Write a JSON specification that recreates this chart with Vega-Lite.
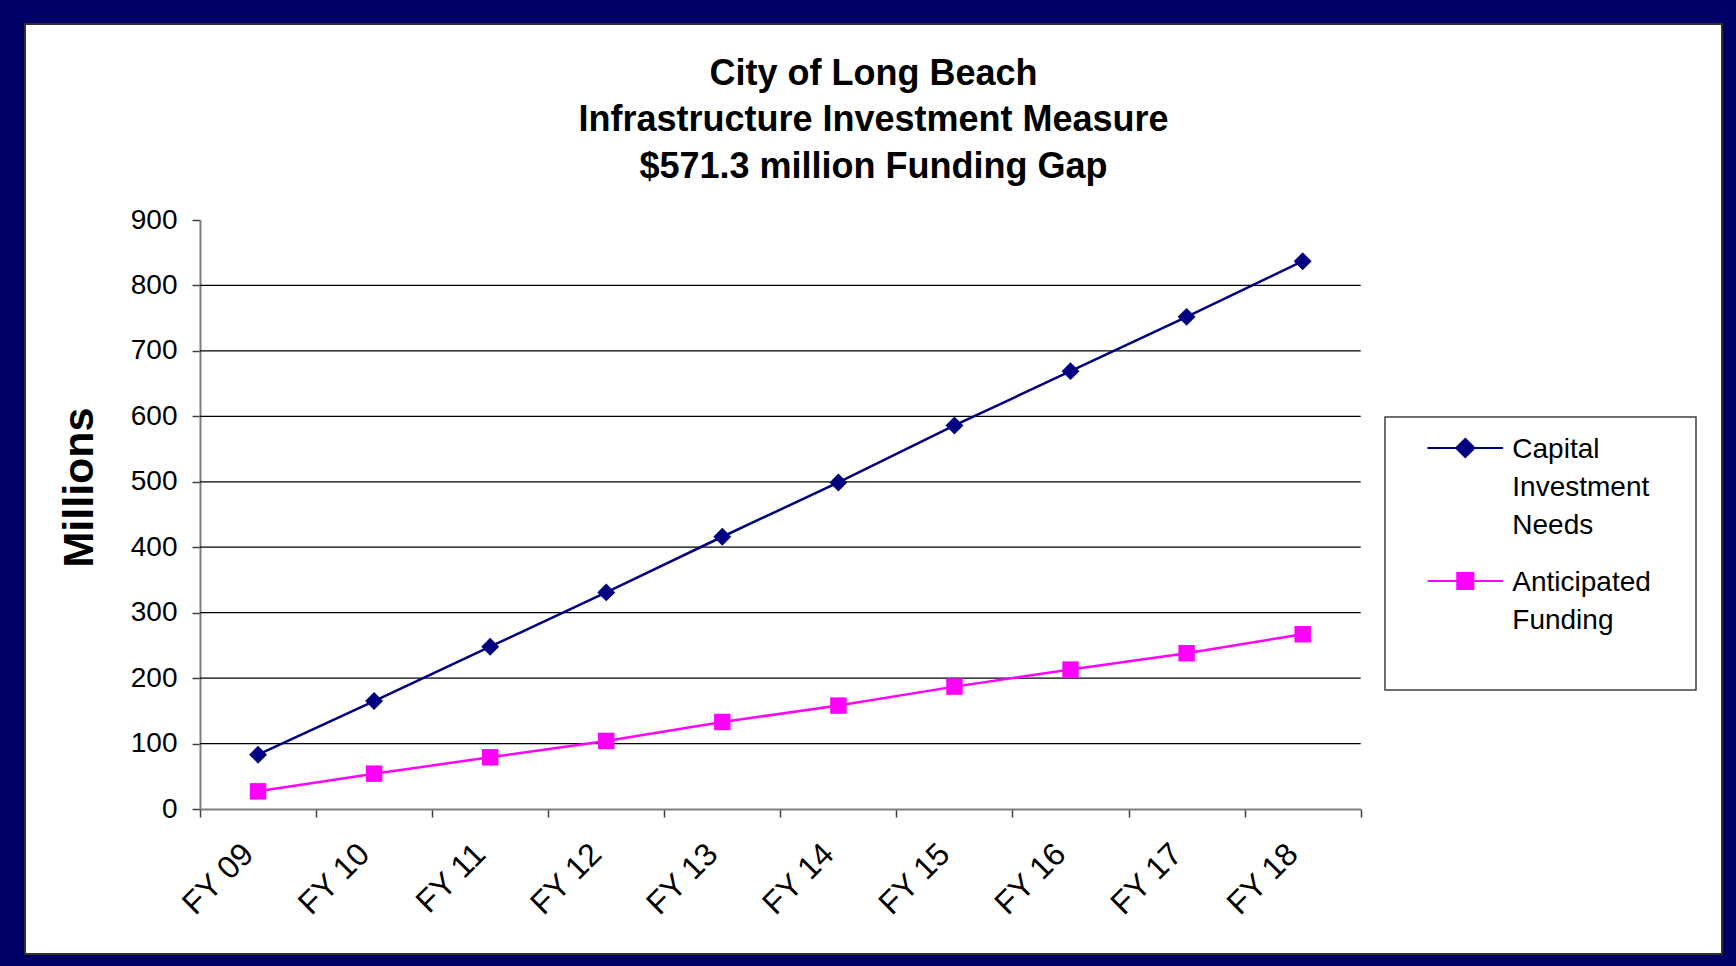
{
  "$schema": "https://vega.github.io/schema/vega-lite/v6.json",
  "autosize": {"type": "none"},
  "width": 1697,
  "height": 930,
  "padding": {"left": 25, "top": 24, "right": 14, "bottom": 12},
  "background": "#000066",
  "config": {
    "font": "Liberation Sans",
    "view": {"fill": "white", "stroke": "#303030", "strokeWidth": 2}
  },
  "title": {
    "text": ["City of Long Beach", "Infrastructure Investment Measure", "$571.3 million Funding Gap"],
    "font": "Liberation Sans",
    "fontSize": 36,
    "fontWeight": "bold",
    "color": "black",
    "lineHeight": 46.5,
    "baseline": "top",
    "anchor": "middle",
    "offset": -161.5
  },
  "datasets": {
    "series": [
      {"fy": "FY 09", "series": "Capital Investment Needs", "value": 83},
      {"fy": "FY 10", "series": "Capital Investment Needs", "value": 165},
      {"fy": "FY 11", "series": "Capital Investment Needs", "value": 248},
      {"fy": "FY 12", "series": "Capital Investment Needs", "value": 331},
      {"fy": "FY 13", "series": "Capital Investment Needs", "value": 416},
      {"fy": "FY 14", "series": "Capital Investment Needs", "value": 499},
      {"fy": "FY 15", "series": "Capital Investment Needs", "value": 586},
      {"fy": "FY 16", "series": "Capital Investment Needs", "value": 669},
      {"fy": "FY 17", "series": "Capital Investment Needs", "value": 752},
      {"fy": "FY 18", "series": "Capital Investment Needs", "value": 837},
      {"fy": "FY 09", "series": "Anticipated Funding", "value": 27},
      {"fy": "FY 10", "series": "Anticipated Funding", "value": 54},
      {"fy": "FY 11", "series": "Anticipated Funding", "value": 79},
      {"fy": "FY 12", "series": "Anticipated Funding", "value": 104},
      {"fy": "FY 13", "series": "Anticipated Funding", "value": 133},
      {"fy": "FY 14", "series": "Anticipated Funding", "value": 158},
      {"fy": "FY 15", "series": "Anticipated Funding", "value": 187},
      {"fy": "FY 16", "series": "Anticipated Funding", "value": 213},
      {"fy": "FY 17", "series": "Anticipated Funding", "value": 238},
      {"fy": "FY 18", "series": "Anticipated Funding", "value": 267}
    ],
    "grid": [{"v": 100}, {"v": 200}, {"v": 300}, {"v": 400}, {"v": 500}, {"v": 600}, {"v": 700}, {"v": 800}]
  },
  "layer": [
    {
      "data": {"name": "grid"},
      "mark": {"type": "rule", "color": "black", "strokeWidth": 1.2},
      "encoding": {
        "y": {
          "field": "v", "type": "quantitative",
          "scale": {"domain": [0, 900], "range": [785, 196], "nice": false, "zero": false},
          "axis": {
            "values": [0, 100, 200, 300, 400, 500, 600, 700, 800, 900],
            "offset": -175, "grid": false,
            "domain": true, "domainColor": "#7f7f7f", "domainWidth": 2,
            "tickSize": 8, "tickColor": "#404040", "tickWidth": 1.5,
            "labelFontSize": 28, "labelFont": "Liberation Sans", "labelColor": "black", "labelPadding": 15,
            "title": "Millions", "titleFont": "Liberation Sans", "titleFontSize": 43, "titleFontWeight": "bold", "titleColor": "black",
            "titleAngle": -90, "titleAlign": "center", "titleBaseline": "middle", "titleX": -121, "titleY": 463
          }
        },
        "x": {"datum": "FY 09", "type": "ordinal", "bandPosition": 0},
        "x2": {"datum": "FY 18", "bandPosition": 1}
      }
    },
    {
      "data": {"name": "series"},
      "mark": {"type": "line", "strokeWidth": 2.5},
      "encoding": {
        "x": {
          "field": "fy", "type": "ordinal",
          "scale": {"type": "band", "domain": ["FY 09", "FY 10", "FY 11", "FY 12", "FY 13", "FY 14", "FY 15", "FY 16", "FY 17", "FY 18"], "range": [175, 1335.7], "paddingInner": 0, "paddingOuter": 0, "round": false},
          "axis": {
            "orient": "bottom", "offset": -145, "grid": false, "title": null,
            "domain": true, "domainColor": "#7f7f7f", "domainWidth": 2,
            "tickBand": "extent", "tickSize": 8, "tickColor": "#404040", "tickWidth": 1.5,
            "labelAngle": -45, "labelAlign": "right", "labelBaseline": "top", "labelPadding": 21, "labelOffset": -21,
            "labelFontSize": 32, "labelFont": "Liberation Sans", "labelColor": "black"
          }
        },
        "y": {"field": "value", "type": "quantitative", "scale": {"domain": [0, 900], "range": [785, 196], "nice": false, "zero": false}},
        "color": {
          "field": "series", "type": "nominal",
          "scale": {"domain": ["Capital Investment Needs", "Anticipated Funding"], "range": ["#000080", "#FF00FF"]},
          "legend": {
            "orient": "none", "legendX": 1360, "legendY": 393, "title": null,
            "padding": 17, "strokeColor": "#404040", "fillColor": "white",
            "symbolSize": 400, "symbolStrokeWidth": 2, "symbolOffset": 49.3,
            "labelFontSize": 28, "labelFont": "Liberation Sans", "labelColor": "black",
            "labelOffset": 33, "labelBaseline": "alphabetic", "labelLimit": 500, "rowPadding": 27,
            "labelExpr": "split(datum.label, ' ')",
            "encode": {
              "legend": {"update": {"strokeWidth": {"value": 1.5}}},
              "labels": {"update": {"dy": {"value": 10}, "lineHeight": {"value": 38}}},
              "symbols": {"update": {
                "shape": {"signal": "datum.value === 'Capital Investment Needs' ? 'M-3.78,0L3.78,0M0,-0.935L0.935,0L0,0.935L-0.935,0ZM20.93,0L20.93,0' : 'M-3.78,0L3.78,0M-0.815,-0.815L0.815,-0.815L0.815,0.815L-0.815,0.815ZM20.93,8.82L20.93,8.82'"},
                "stroke": {"signal": "scale('color', datum.value)"},
                "strokeWidth": {"value": 1.8},
                "size": {"value": 400},
                "opacity": {"value": 1}
              }}
            }
          }
        }
      }
    },
    {
      "data": {"name": "series"},
      "transform": [{"filter": "datum.series === 'Capital Investment Needs'"}],
      "mark": {"type": "point", "shape": "diamond", "size": 320, "filled": true, "opacity": 1, "strokeWidth": 0},
      "encoding": {
        "x": {"field": "fy", "type": "ordinal"},
        "y": {"field": "value", "type": "quantitative"},
        "color": {"field": "series", "type": "nominal"}
      }
    },
    {
      "data": {"name": "series"},
      "transform": [{"filter": "datum.series === 'Anticipated Funding'"}],
      "mark": {"type": "point", "shape": "square", "size": 270, "filled": true, "opacity": 1, "strokeWidth": 0},
      "encoding": {
        "x": {"field": "fy", "type": "ordinal"},
        "y": {"field": "value", "type": "quantitative"},
        "color": {"field": "series", "type": "nominal"}
      }
    }
  ]
}
